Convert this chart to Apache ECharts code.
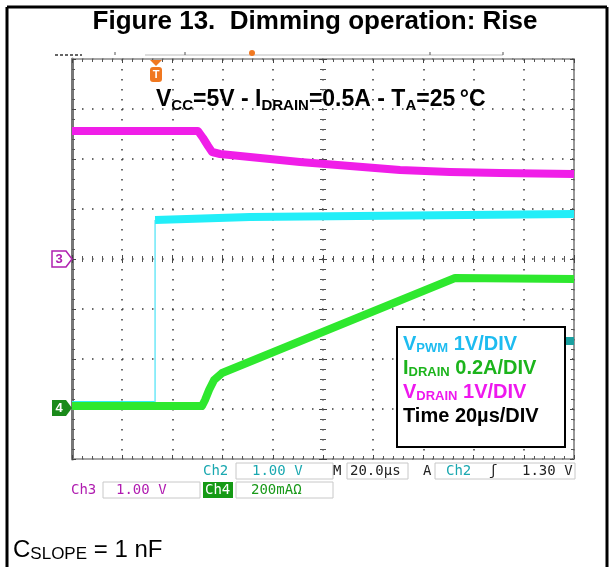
<!DOCTYPE html>
<html>
<head>
<meta charset="utf-8">
<script src="https://cdn.jsdelivr.net/npm/echarts@6/dist/echarts.min.js"></script>
<style>
html, body { margin: 0; padding: 0; background: #fff; }
#chart { width: 614px; height: 567px; }
</style>
</head>
<body>
<div id="chart"></div>
<script>
// x: time in µs (20 µs/div), y: screen divisions counted from the bottom of the scope
var timeMin = 0, timeMax = 200, timeStep = 20;
var divMin = 0, divMax = 8, divStep = 1;

// VDRAIN (ch3, magenta)
var vdrain = [[0, 6.56], [50.2, 6.56], [52.2, 6.42], [54.2, 6.26], [55.8, 6.14], [59, 6.10],
  [70.9, 6.04], [90.8, 5.94], [110.8, 5.86], [130.7, 5.78], [150.6, 5.74], [170.5, 5.72], [200, 5.70]];
// VPWM (ch2, cyan): low level, edge, high level
var vpwmLow = [[0, 1.10], [33.1, 1.10]];
var vpwmEdge = [[33.1, 1.10], [33.1, 4.78]];
var vpwmHigh = [[33.1, 4.78], [70.9, 4.84], [200, 4.90]];
// IDRAIN (ch4, green)
var idrain = [[0, 1.06], [51.8, 1.06], [53, 1.18], [54.6, 1.38], [56.6, 1.58], [59.8, 1.72],
  [152.6, 3.62], [200, 3.60]];

var chart = echarts.init(document.getElementById('chart'));

var dotted = { color: '#3a3a3a', width: 1.5, type: [1.5, 8.5] };
var mono = '"DejaVu Sans Mono", monospace';
var sans = '"Liberation Sans", Arial, sans-serif';

// frame / centre axes of the scope graticule
function xAx(pos, offset, inside, split, line) {
  return {
    type: 'value', min: timeMin, max: timeMax, interval: timeStep, position: pos, offset: offset,
    axisLine: { show: line, onZero: false, lineStyle: { color: '#888', width: 1.5 } },
    axisTick: { show: true, inside: inside, length: 4, lineStyle: { color: '#444' } },
    minorTick: { show: true, splitNumber: 5, length: 3, lineStyle: { color: '#555' } },
    axisLabel: { show: false },
    splitLine: { show: split, lineStyle: dotted }
  };
}
function yAx(pos, offset, inside, split, line, w) {
  return {
    type: 'value', min: divMin, max: divMax, interval: divStep, position: pos, offset: offset,
    axisLine: { show: line, onZero: false, lineStyle: { color: '#777', width: w || 1.5 } },
    axisTick: { show: true, inside: inside, length: 4, lineStyle: { color: '#444' } },
    minorTick: { show: true, splitNumber: 5, length: 3, lineStyle: { color: '#555' } },
    axisLabel: { show: false },
    splitLine: { show: split, lineStyle: dotted }
  };
}

function trace(data, color, width, z) {
  return {
    type: 'line', data: data, xAxisIndex: 0, yAxisIndex: 0, symbol: 'none', z: z,
    silent: true, animation: false,
    lineStyle: { color: color, width: width, cap: 'butt', join: 'round' }
  };
}

// one legend line: main text + subscript + rest
function legendLine(y, main, subTxt, rest, color) {
  return { type: 'text', x: 403, y: y, z: 21, style: {
    text: '{m|' + main + '}{s|' + subTxt + '}{m|' + rest + '}', verticalAlign: 'middle',
    rich: {
      m: { font: 'bold 20px ' + sans, fill: color, lineHeight: 22, verticalAlign: 'middle' },
      s: { font: 'bold 13px ' + sans, fill: color, lineHeight: 12, verticalAlign: 'bottom' }
    } } };
}

function status(x, y, txt, color) {
  return { type: 'text', x: x, y: y, style: { text: txt, font: '14px ' + mono, fill: color, verticalAlign: 'middle' } };
}
function box(x, y, w) {
  return { type: 'rect', shape: { x: x, y: y, width: w, height: 16 }, style: { fill: 'none', stroke: '#c8c8c8', lineWidth: 1 } };
}

chart.setOption({
  animation: false,
  grid: { left: 72, top: 59, width: 502, height: 400, containLabel: false },
  xAxis: [
    xAx('bottom', 0, true, true, true),
    xAx('top', 0, true, false, true),
    xAx('bottom', -200, true, false, false),
    xAx('bottom', -200, false, false, false)
  ],
  yAxis: [
    yAx('left', 0, true, true, true, 3),
    yAx('right', 0, true, false, true),
    yAx('left', -251, true, false, false),
    yAx('left', -251, false, false, false)
  ],
  series: [
    trace(vdrain, '#f01ee8', 8, 3),
    trace(vpwmLow, '#30eef8', 6, 2),
    trace(vpwmEdge, '#6ee8f8', 1.5, 2),
    trace(vpwmHigh, '#22eef8', 8, 3),
    trace(idrain, '#2ee82e', 8, 4)
  ],
  graphic: [
    // figure frame
    { type: 'line', shape: { x1: 7, y1: 7, x2: 607, y2: 7 }, style: { stroke: '#000', lineWidth: 3 } },
    { type: 'line', shape: { x1: 7, y1: 7, x2: 7, y2: 567 }, style: { stroke: '#000', lineWidth: 3 } },
    { type: 'line', shape: { x1: 607, y1: 7, x2: 607, y2: 567 }, style: { stroke: '#000', lineWidth: 3 } },
    // title
    { type: 'text', x: 315, y: 22, style: { text: 'Figure 13.  Dimming operation: Rise', font: 'bold 26px ' + sans, fill: '#000', align: 'center', verticalAlign: 'middle' } },
    // conditions
    { type: 'text', x: 156, y: 100, z: 10, style: {
      text: '{m|V}{s|CC}{m|=5V - I}{s|DRAIN}{m|=0.5A - T}{s|A}{m|=25\u2009°C}',
      verticalAlign: 'middle', align: 'left',
      rich: {
        m: { font: 'bold 23px ' + sans, fill: '#000', lineHeight: 26, verticalAlign: 'middle' },
        s: { font: 'bold 15px ' + sans, fill: '#000', lineHeight: 15, verticalAlign: 'bottom' }
      } } },
    // top record ruler
    { type: 'line', shape: { x1: 55, y1: 55, x2: 82, y2: 55 }, style: { stroke: '#333', lineWidth: 1.5, lineDash: [3, 2] } },
    { type: 'line', shape: { x1: 145, y1: 55, x2: 503, y2: 55 }, style: { stroke: '#bbb', lineWidth: 1 } },
    { type: 'line', shape: { x1: 115, y1: 52, x2: 115, y2: 55 }, style: { stroke: '#555', lineWidth: 1 } },
    { type: 'line', shape: { x1: 185, y1: 52, x2: 185, y2: 55 }, style: { stroke: '#555', lineWidth: 1 } },
    { type: 'line', shape: { x1: 430, y1: 52, x2: 430, y2: 55 }, style: { stroke: '#555', lineWidth: 1 } },
    { type: 'line', shape: { x1: 503, y1: 52, x2: 503, y2: 55 }, style: { stroke: '#555', lineWidth: 1 } },
    { type: 'circle', shape: { cx: 252, cy: 53, r: 3 }, style: { fill: '#f07820' } },
    // trigger marker T
    { type: 'polygon', shape: { points: [[150, 60], [162, 60], [156, 66]] }, style: { fill: '#f07820' }, z: 10 },
    { type: 'rect', shape: { x: 150, y: 67, width: 12, height: 15, r: 3 }, style: { fill: '#f07820' }, z: 10 },
    { type: 'text', x: 156, y: 75, z: 11, style: { text: 'T', font: 'bold 11px ' + sans, fill: '#fff', align: 'center', verticalAlign: 'middle' } },
    // channel ground markers
    { type: 'polygon', shape: { points: [[52, 251], [66, 251], [72, 259], [66, 267], [52, 267]] }, style: { fill: '#fff', stroke: '#b020b0', lineWidth: 1.5 }, z: 10 },
    { type: 'text', x: 59, y: 259, z: 11, style: { text: '3', font: 'bold 13px ' + sans, fill: '#b020b0', align: 'center', verticalAlign: 'middle' } },
    { type: 'polygon', shape: { points: [[52, 400], [66, 400], [72, 408], [66, 416], [52, 416]] }, style: { fill: '#1a8a1a' }, z: 10 },
    { type: 'text', x: 59, y: 408, z: 11, style: { text: '4', font: 'bold 13px ' + sans, fill: '#fff', align: 'center', verticalAlign: 'middle' } },
    // trigger level marker
    { type: 'polygon', shape: { points: [[566, 337], [574, 337], [574, 345], [566, 345]] }, style: { fill: '#1aa0a0' }, z: 10 },
    // legend box
    { type: 'rect', shape: { x: 397, y: 327, width: 168, height: 120 }, style: { fill: '#fff', stroke: '#000', lineWidth: 2 }, z: 20 },
    legendLine(344, 'V', 'PWM', ' 1V/DIV', '#1ebcf0'),
    legendLine(368, 'I', 'DRAIN', ' 0.2A/DIV', '#1cb41c'),
    legendLine(392, 'V', 'DRAIN', ' 1V/DIV', '#ee18ee'),
    { type: 'text', x: 403, y: 416, z: 21, style: { text: 'Time 20µs/DIV', verticalAlign: 'middle', font: 'bold 20px ' + sans, fill: '#000' } },
    // status boxes row 1
    status(203, 471, 'Ch2', '#1aa8b0'),
    box(236, 463, 97),
    status(252, 471, '1.00 V', '#1aa8b0'),
    status(333, 471, 'M', '#222'),
    box(347, 463, 61),
    status(350, 471, '20.0µs', '#222'),
    status(423, 471, 'A', '#222'),
    box(435, 463, 140),
    status(446, 471, 'Ch2', '#1aa8b0'),
    status(489, 471, 'ʃ', '#222'),
    status(522, 471, '1.30 V', '#222'),
    // status boxes row 2
    status(71, 490, 'Ch3', '#b01cb0'),
    box(103, 482, 97),
    status(116, 490, '1.00 V', '#b01cb0'),
    { type: 'rect', shape: { x: 203, y: 482, width: 30, height: 16 }, style: { fill: '#149a14' } },
    status(205, 490, 'Ch4', '#fff'),
    box(236, 482, 97),
    status(251, 490, '200mAΩ', '#1a9a1a'),
    // capacitor note
    { type: 'text', x: 13, y: 550, style: { text: '{m|C}{s|SLOPE}{m| = 1 nF}', verticalAlign: 'middle',
      rich: { m: { font: '24px ' + sans, fill: '#000', lineHeight: 26, verticalAlign: 'middle' }, s: { font: '17px ' + sans, fill: '#000', lineHeight: 16, verticalAlign: 'bottom' } } } }
  ]
});
</script>
</body>
</html>
